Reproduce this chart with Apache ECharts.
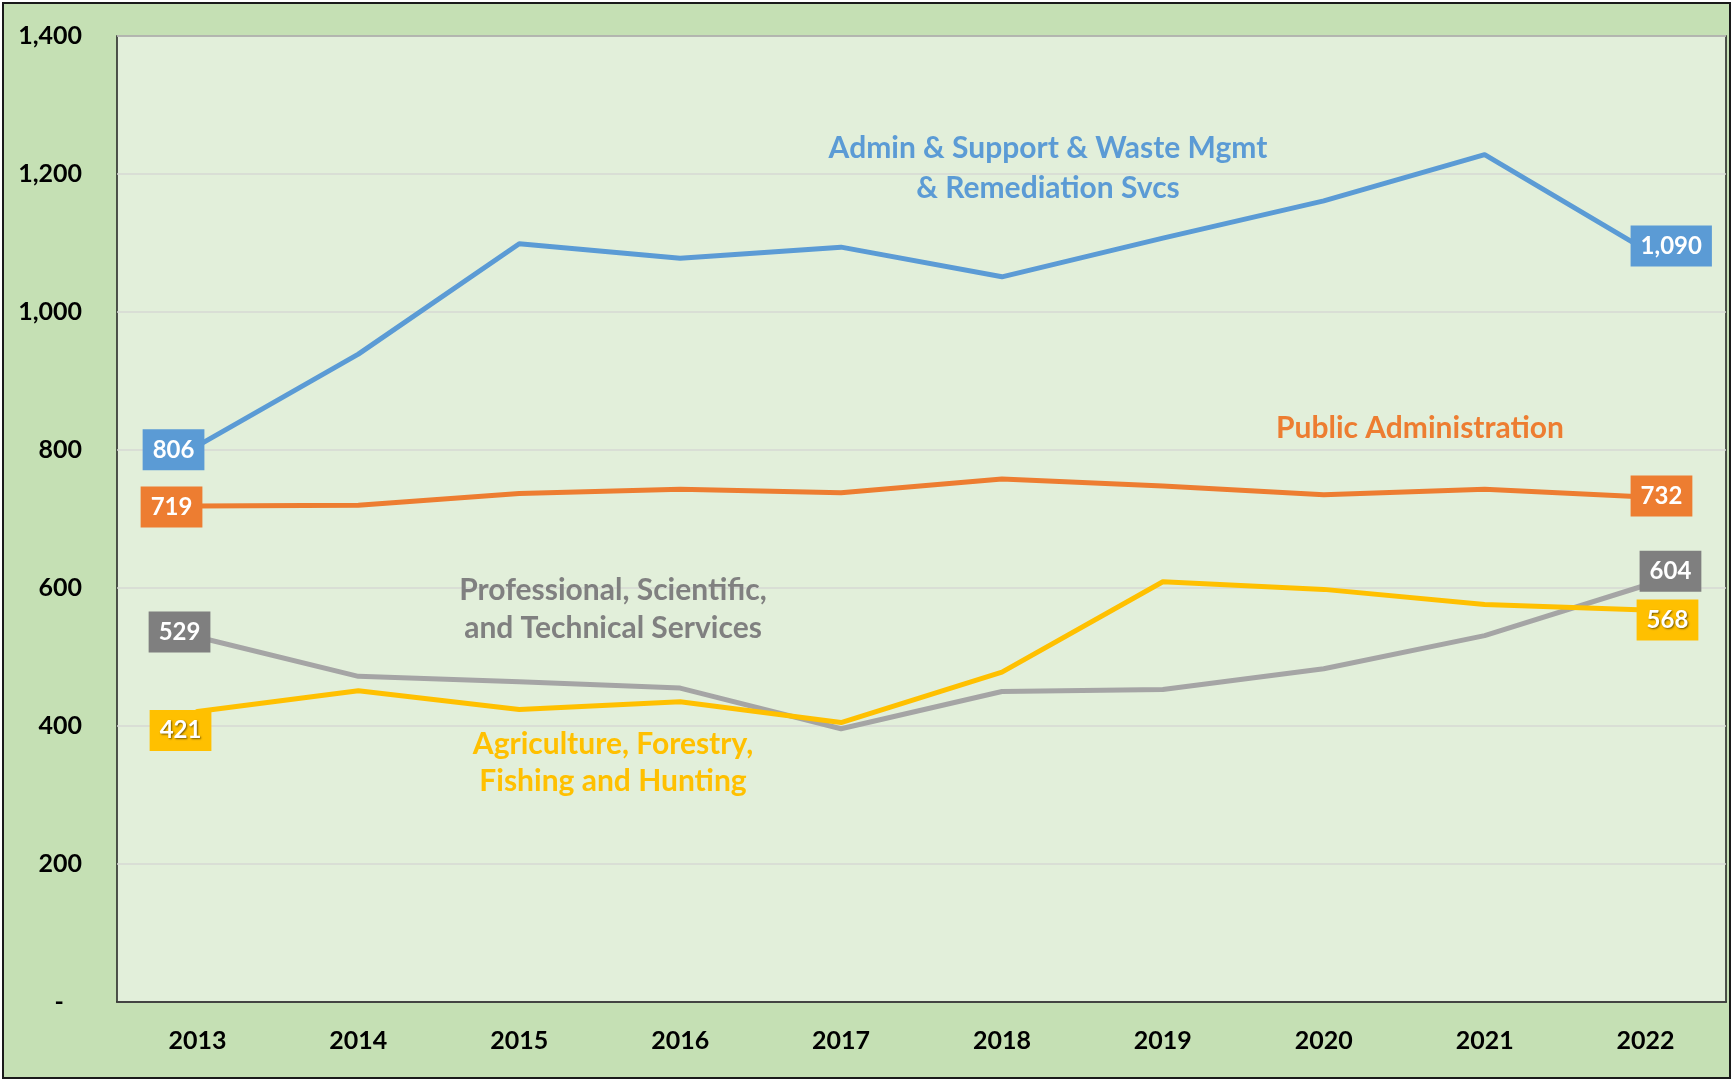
<!DOCTYPE html>
<html>
<head>
<meta charset="utf-8">
<script src="https://cdn.jsdelivr.net/npm/echarts@6/dist/echarts.min.js"></script>
<style>
html,body{margin:0;padding:0;background:#fff;}
#wrap{position:absolute;left:2px;top:2px;width:1725px;height:1073px;border:2px solid #1a1a1a;background:#C5E0B4;}
#chart{position:absolute;left:-4px;top:-4px;width:1733px;height:1081px;}
</style>
</head>
<body>
<div id="wrap"><div id="chart"></div></div>
<script>
const years = ['2013','2014','2015','2016','2017','2018','2019','2020','2021','2022'];
const adminSupport = [806, 939, 1099, 1078, 1094, 1051, 1107, 1161, 1228, 1090];
const publicAdmin = [719, 720, 737, 743, 738, 758, 748, 735, 743, 732];
const professional = [529, 472, 464, 455, 396, 450, 453, 483, 531, 604];
const agriculture = [421, 451, 424, 435, 405, 478, 609, 598, 576, 568];
const yTicks = {min: 0, max: 1400, interval: 200};

const FONT = 'Lato';
const C = {blue:'#5B9BD5', orange:'#ED7D31', gray:'#A5A5A5', grayLbl:'#7F7F7F', yellow:'#FFC000'};

function fmt(v){ return v.toLocaleString('en-US'); }

function endLabels(values, bg, firstOff, lastOff, shadow){
  return values.map((v,i)=>{
    if(i!==0 && i!==values.length-1) return v;
    const first = i===0;
    const lbl = {
      show:true,
      position: first ? 'left' : 'right',
      distance: 0,
      offset: first ? firstOff : lastOff,
      formatter: p => fmt(p.value),
      backgroundColor: bg,
      color:'#fff',
      fontFamily: FONT, fontWeight:'bold', fontSize:24,
      padding:[8,10,8,10], lineHeight:25
    };
    if(shadow){ Object.assign(lbl,{textShadowColor:'rgba(0,0,0,0.55)', textShadowBlur:2, textShadowOffsetX:1, textShadowOffsetY:1}); }
    return {value:v, label:lbl};
  });
}

function mkSeries(name, values, color, lblBg, firstOff, lastOff, shadow){
  return {
    name, type:'line', data:endLabels(values, lblBg, firstOff, lastOff, shadow),
    symbol:'circle', symbolSize:0.1, showSymbol:true,
    lineStyle:{color, width:5, cap:'round', join:'round'},
    itemStyle:{color},
    z: 2
  };
}

const chart = echarts.init(document.getElementById('chart'), null, {renderer:'canvas'});
chart.setOption({
  backgroundColor:'transparent',
  animation:false,
  grid:{left:117, top:36, right:7, bottom:79, show:true, backgroundColor:'#E2EFDA', borderColor:'#1f1f1f', borderWidth:1.5},
  xAxis:{
    type:'category', data:years, boundaryGap:true,
    axisLine:{show:true, lineStyle:{color:'#1f1f1f', width:1.5}},
    axisTick:{show:false},
    axisLabel:{color:'#000', fontFamily:FONT, fontWeight:'bold', fontSize:25, margin:26}
  },
  yAxis:{
    type:'value', min:yTicks.min, max:yTicks.max, interval:yTicks.interval,
    axisLine:{show:false}, axisTick:{show:false},
    splitLine:{lineStyle:{color:'#D6D9D3', width:1.5}},
    axisLabel:{color:'#000', fontFamily:FONT, fontWeight:'bold', fontSize:25, margin:35,
      formatter: v => v===0 ? '-   ' : fmt(v)}
  },
  series:[
    mkSeries('Professional, Scientific, and Technical Services', professional, C.gray, C.grayLbl, [13,-5], [-6,-14], false),
    mkSeries('Agriculture, Forestry, Fishing and Hunting', agriculture, C.yellow, C.yellow, [14,19], [-9,10], true),
    mkSeries('Public Administration', publicAdmin, C.orange, C.orange, [5,1], [-15,-1], false),
    mkSeries('Admin & Support & Waste Mgmt & Remediation Svcs', adminSupport, C.blue, C.blue, [7,4], [-15,-4], false)
  ],
  graphic:[
    {type:'text', x:1048, y:168, z:10, style:{text:'Admin & Support & Waste Mgmt\n& Remediation Svcs', fill:C.blue, font:'bold 30px '+FONT, textAlign:'center', textVerticalAlign:'middle', lineHeight:40}},
    {type:'text', x:1420, y:428, z:10, style:{text:'Public Administration', fill:C.orange, font:'bold 30px '+FONT, textAlign:'center', textVerticalAlign:'middle'}},
    {type:'text', x:613, y:609, z:10, style:{text:'Professional, Scientific,\nand Technical Services', fill:'#808080', font:'bold 30px '+FONT, textAlign:'center', textVerticalAlign:'middle', lineHeight:38}},
    {type:'text', x:613, y:763, z:10, style:{text:'Agriculture, Forestry,\nFishing and Hunting', fill:C.yellow, font:'bold 30px '+FONT, textAlign:'center', textVerticalAlign:'middle', lineHeight:37, shadowColor:'rgba(0,0,0,0.45)', shadowBlur:2, shadowOffsetX:1, shadowOffsetY:1}}
  ]
});
</script>
</body>
</html>
